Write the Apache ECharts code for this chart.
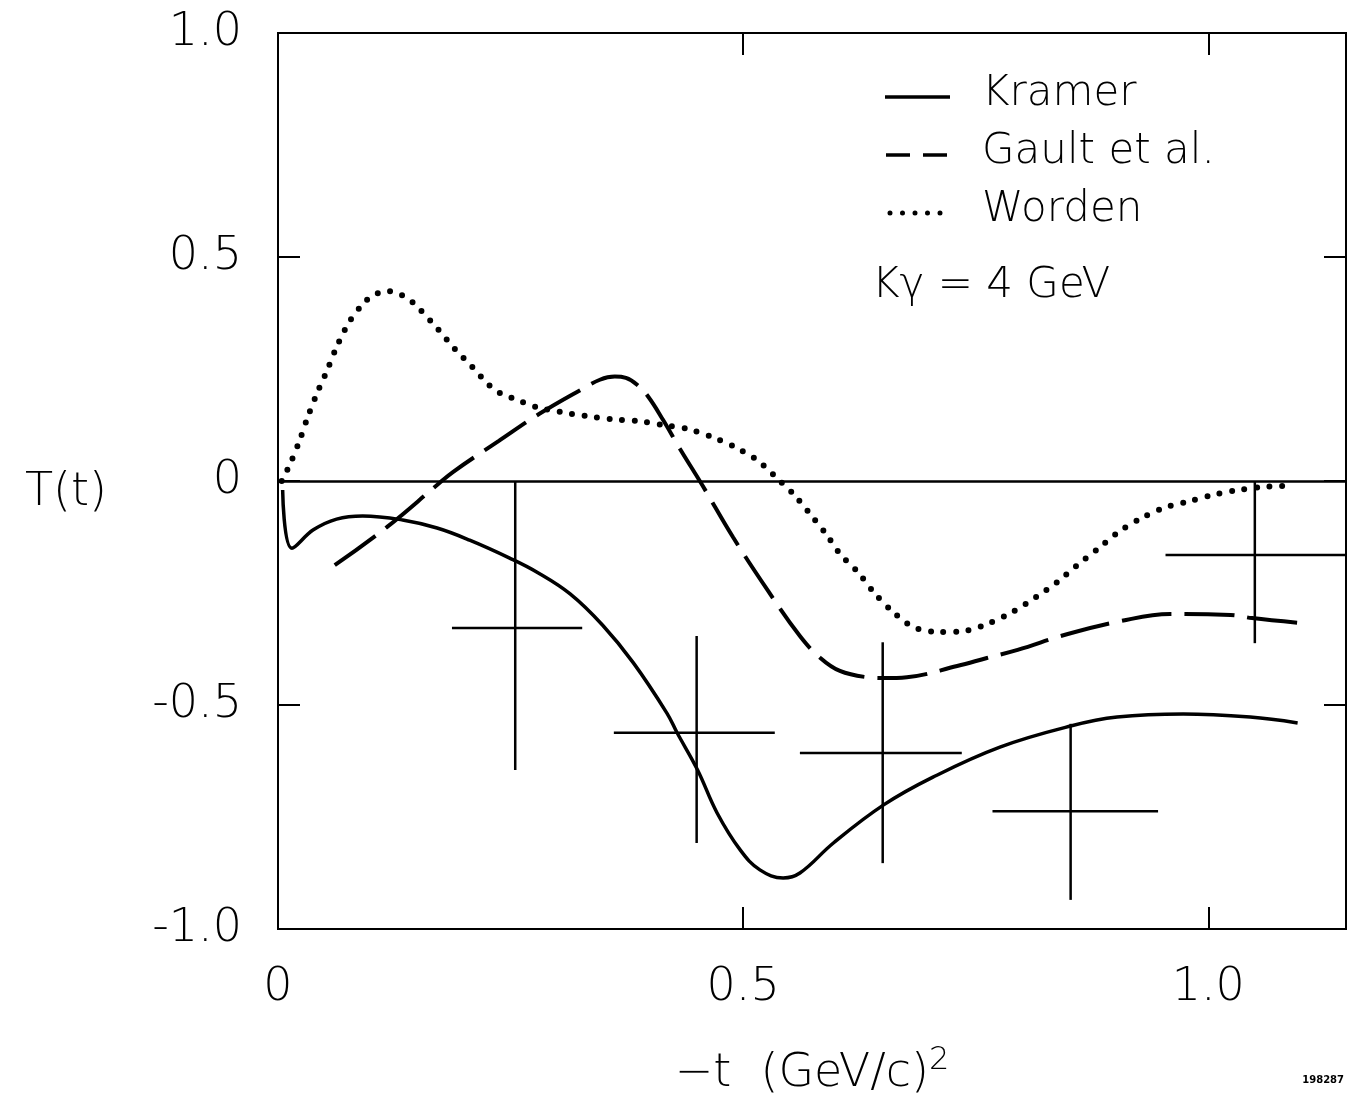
<!DOCTYPE html>
<html>
<head>
<meta charset="utf-8">
<script src="https://cdn.jsdelivr.net/npm/echarts@6/dist/echarts.min.js"></script>
<style>
  html, body { margin: 0; padding: 0; background: #fff; }
  #chart { width: 1350px; height: 1103px; }
</style>
</head>
<body>
<div id="chart"></div>
<script>
  // -t values and T(t)
  var kramerX = [0.005, 0.015, 0.038, 0.063, 0.091, 0.134, 0.171, 0.206, 0.249, 0.278, 0.314, 0.349, 0.382, 0.418, 0.429, 0.451, 0.472, 0.497, 0.518, 0.543, 0.561, 0.597, 0.651, 0.704, 0.776, 0.852, 0.902, 0.973, 1.045, 1.096];
  var kramerY = [-0.020, -0.150, -0.109, -0.085, -0.078, -0.087, -0.105, -0.132, -0.172, -0.203, -0.252, -0.322, -0.406, -0.518, -0.562, -0.645, -0.741, -0.824, -0.868, -0.886, -0.875, -0.808, -0.723, -0.661, -0.594, -0.547, -0.527, -0.520, -0.527, -0.540];

  var gaultX = [0.061, 0.117, 0.171, 0.188, 0.237, 0.281, 0.325, 0.346, 0.362, 0.374, 0.386, 0.398, 0.414, 0.432, 0.456, 0.489, 0.527, 0.561, 0.583, 0.604, 0.633, 0.651, 0.676, 0.730, 0.762, 0.795, 0.848, 0.905, 0.959, 1.024, 1.047, 1.099];
  var gaultY = [-0.188, -0.103, -0.009, 0.020, 0.089, 0.150, 0.203, 0.226, 0.233, 0.230, 0.215, 0.188, 0.136, 0.072, -0.009, -0.125, -0.246, -0.346, -0.395, -0.424, -0.438, -0.440, -0.438, -0.413, -0.395, -0.377, -0.342, -0.313, -0.297, -0.299, -0.306, -0.317];

  var wordenX = [0.004, 0.013, 0.023, 0.032, 0.042, 0.053, 0.063, 0.076, 0.092, 0.103, 0.117, 0.131, 0.143, 0.153, 0.172, 0.190, 0.209, 0.227, 0.239, 0.252, 0.278, 0.304, 0.331, 0.359, 0.386, 0.414, 0.441, 0.467, 0.491, 0.515, 0.535, 0.555, 0.572, 0.589, 0.605, 0.624, 0.641, 0.660, 0.683, 0.710, 0.737, 0.765, 0.790, 0.815, 0.838, 0.859, 0.881, 0.902, 0.928, 0.952, 0.980, 1.009, 1.033, 1.060, 1.089];
  var wordenY = [0.000, 0.038, 0.089, 0.143, 0.196, 0.248, 0.299, 0.353, 0.397, 0.415, 0.424, 0.417, 0.402, 0.382, 0.339, 0.295, 0.254, 0.214, 0.196, 0.185, 0.165, 0.154, 0.145, 0.138, 0.134, 0.125, 0.116, 0.098, 0.076, 0.047, 0.009, -0.031, -0.074, -0.118, -0.165, -0.205, -0.250, -0.290, -0.326, -0.337, -0.335, -0.317, -0.292, -0.259, -0.225, -0.188, -0.152, -0.116, -0.083, -0.060, -0.045, -0.029, -0.020, -0.013, -0.011];

  // measured points with their bars
  var ptX  = [0.255, 0.450, 0.650, 0.852, 1.050];
  var ptY  = [-0.328, -0.562, -0.607, -0.737, -0.165];
  var ptXlo = [0.187, 0.361, 0.561, 0.768, 0.954];
  var ptXhi = [0.327, 0.534, 0.735, 0.946, 1.148];
  var ptYlo = [-0.645, -0.808, -0.853, -0.935, -0.362];
  var ptYhi = [0.000, -0.346, -0.360, -0.542, 0.000];

  var xTicks = ['0', '0.5', '1.0'];
  var yTicks = ['-1.0', '-0.5', '0', '0.5', '1.0'];

  function pairs(xs, ys) {
    return xs.map(function (x, i) { return [x, ys[i]]; });
  }

  var FONT = '"DejaVu Sans", "Liberation Sans", sans-serif';
  var tick = { show: true, inside: true, length: 22, lineStyle: { color: '#000', width: 2 } };

  var chart = echarts.init(document.getElementById('chart'));

  var option = {
    backgroundColor: '#fff',
    animation: false,
    grid: {
      left: 278,
      right: 4,
      top: 33,
      bottom: 174,
      show: true,
      borderColor: '#000',
      borderWidth: 2,
      backgroundColor: 'transparent'
    },
    xAxis: [{
      type: 'value',
      min: 0,
      max: 1.148,
      interval: 0.5,
      position: 'bottom',
      name: '−t  (GeV/c){s|2}',
      nameLocation: 'middle',
      nameGap: 116,
      nameTextStyle: {
        fontFamily: FONT,
        fontWeight: 200,
        fontSize: 46,
        color: '#000',
        rich: {
          s: { fontFamily: FONT, fontWeight: 200, fontSize: 32, color: '#000', verticalAlign: 'top', padding: [0, 0, 26, 0] }
        }
      },
      axisLine: { show: false, onZero: false },
      splitLine: { show: false },
      axisTick: tick,
      axisLabel: {
        margin: 36,
        fontFamily: FONT,
        fontWeight: 200,
        fontSize: 46,
        color: '#000',
        formatter: function (v) {
          var i = Math.round(v / 0.5);
          if (Math.abs(v - i * 0.5) > 1e-6) return '';
          return xTicks[i] || '';
        }
      }
    }, {
      type: 'value',
      min: 0,
      max: 1.148,
      interval: 0.5,
      position: 'top',
      axisLine: { show: false, onZero: false },
      splitLine: { show: false },
      axisLabel: { show: false },
      axisTick: tick
    }],
    yAxis: [{
      type: 'value',
      min: -1,
      max: 1,
      interval: 0.5,
      position: 'left',
      axisLine: { show: false, onZero: false },
      splitLine: { show: false },
      axisTick: tick,
      axisLabel: {
        margin: 36,
        fontFamily: FONT,
        fontWeight: 200,
        fontSize: 46,
        color: '#000',
        formatter: function (v) {
          var i = Math.round((v + 1) / 0.5);
          return yTicks[i] || '';
        }
      }
    }, {
      type: 'value',
      min: -1,
      max: 1,
      interval: 0.5,
      position: 'right',
      axisLine: { show: false, onZero: false },
      splitLine: { show: false },
      axisLabel: { show: false },
      axisTick: tick
    }],
    graphic: [
      // legend
      { type: 'line', shape: { x1: 885, y1: 97, x2: 950, y2: 97 }, style: { stroke: '#000', lineWidth: 3.5 } },
      { type: 'line', shape: { x1: 886, y1: 155, x2: 947, y2: 155 }, style: { stroke: '#000', lineWidth: 3.5, lineDash: [24, 13] } },
      { type: 'line', shape: { x1: 890, y1: 213, x2: 942, y2: 213 }, style: { stroke: '#000', lineWidth: 5, lineDash: [0, 12.5], lineCap: 'round' } },
      { type: 'text', left: 982, top: 73, style: { text: 'Kramer', font: '200 42px ' + FONT, fill: '#000' } },
      { type: 'text', left: 982, top: 131, style: { text: 'Gault et al.', font: '200 42px ' + FONT, fill: '#000' } },
      { type: 'text', left: 982, top: 189, style: { text: 'Worden', font: '200 42px ' + FONT, fill: '#000' } },
      { type: 'text', left: 872, top: 265, style: { text: 'Kγ = 4 GeV', font: '200 42px ' + FONT, fill: '#000' } },
      // y axis title
      { type: 'text', left: 25, top: 470, style: { text: 'T(t)', font: '200 46px ' + FONT, fill: '#000' } },
      // plate number
      { type: 'text', right: 6, top: 1075, style: { text: '198287', font: 'bold 10px ' + FONT, fill: '#000' } }
    ],
    series: [{
      name: 'Kramer',
      type: 'line',
      data: pairs(kramerX, kramerY),
      showSymbol: false,
      symbol: 'none',
      smooth: 0.4,
      lineStyle: { color: '#000', width: 3.5 },
      markLine: {
        silent: true,
        symbol: ['none', 'none'],
        label: { show: false },
        lineStyle: { color: '#000', width: 2.5, type: 'solid' },
        data: [{ yAxis: 0 }]
      },
      z: 3
    }, {
      name: 'Gault et al.',
      type: 'line',
      data: pairs(gaultX, gaultY),
      showSymbol: false,
      symbol: 'none',
      smooth: 0.4,
      lineStyle: { color: '#000', width: 4, type: [50, 13] },
      z: 3
    }, {
      name: 'Worden',
      type: 'line',
      data: pairs(wordenX, wordenY),
      showSymbol: false,
      symbol: 'none',
      smooth: 0.3,
      lineStyle: { color: '#000', width: 6, type: [0, 12.6], cap: 'round' },
      z: 3
    }, {
      name: 'data',
      type: 'custom',
      data: ptX.map(function (x, i) { return [x, ptY[i], ptXlo[i], ptXhi[i], ptYlo[i], ptYhi[i]]; }),
      encode: { x: [0, 2, 3], y: [1, 4, 5] },
      renderItem: function (params, api) {
        var c = api.coord([api.value(0), api.value(1)]);
        var l = api.coord([api.value(2), api.value(1)]);
        var r = api.coord([api.value(3), api.value(1)]);
        var b = api.coord([api.value(0), api.value(4)]);
        var t = api.coord([api.value(0), api.value(5)]);
        var st = { stroke: '#000', lineWidth: 2.5, fill: null };
        return {
          type: 'group',
          children: [
            { type: 'line', shape: { x1: l[0], y1: c[1], x2: r[0], y2: c[1] }, style: st },
            { type: 'line', shape: { x1: c[0], y1: t[1], x2: c[0], y2: b[1] }, style: st }
          ]
        };
      },
      z: 4
    }]
  };

  chart.setOption(option);
</script>
</body>
</html>
